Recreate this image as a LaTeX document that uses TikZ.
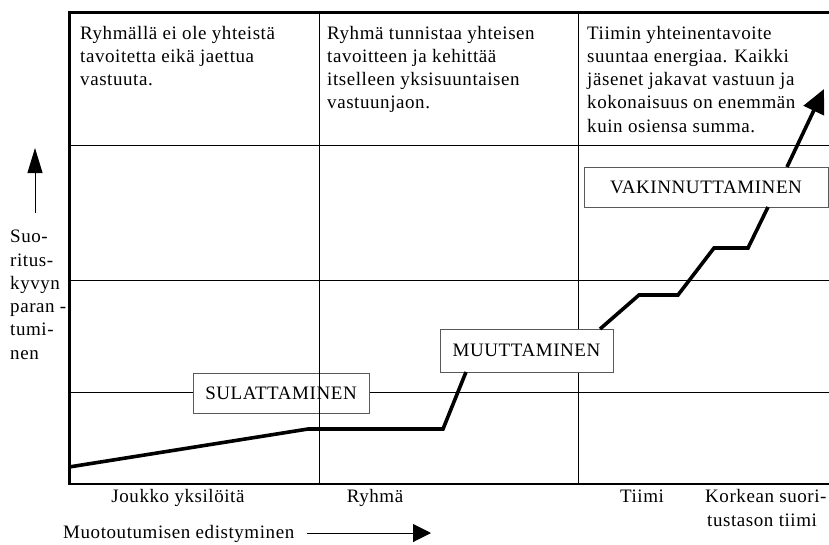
\documentclass[tikz,border=0pt]{standalone}
\usepackage{fontspec}
\setmainfont{Liberation Serif}[LetterSpace=3]
\usetikzlibrary{arrows.meta}

\begin{document}
\begin{tikzpicture}[x=1pt,y=-1pt,
  txt/.style={inner sep=0pt, align=left, font=\fontsize{19}{23.3}\selectfont},
  cell/.style={txt, anchor=north west},
  gridline/.style={line width=0.8pt},
  border/.style={line width=3pt},
  axis/.style={line width=2pt},
  phase/.style={draw=black!65, fill=white, line width=0.9pt, inner sep=0pt,
    font=\fontsize{19}{22}\selectfont},
  curve/.style={line width=3.6pt, line join=miter, line cap=butt},
  pointer/.style={line width=1pt}
]
\useasboundingbox (0,0) rectangle (829,544);

% horizontal grid lines and the vertical line behind the middle box
\draw[gridline] (69,145) -- (829,145);
\draw[gridline] (69,280) -- (829,280);
\draw[gridline] (69,392) -- (829,392);
\draw[gridline] (578,12) -- (578,484);

% phase boxes
\node[phase, minimum width=176pt, minimum height=40pt] (sul) at (281,393) {SULATTAMINEN};
\node[phase, minimum width=173pt, minimum height=43pt] (muu) at (526.5,350.5) {MUUTTAMINEN};
\node[phase, minimum width=244pt, minimum height=40pt] (vak) at (706,187) {VAKINNUTTAMINEN};

% vertical line drawn over the first box
\draw[gridline] (319,12) -- (319,484);

% frame: left border, top border, bottom axis
\draw[border] (69,10.5) -- (69,485);
\draw[border] (67.5,12) -- (829,12);
\draw[axis] (68,484) -- (829,484);

% column descriptions
\node[cell] (c1) at (80,25.7) {Ryhmällä ei ole yhteistä\\tavoitetta eikä jaettua\\vastuuta.};
\node[cell] (c2) at (327,25.7) {Ryhmä tunnistaa yhteisen\\tavoitteen ja kehittää\\itselleen yksisuuntaisen\\vastuunjaon.};
\node[cell] (c3) at (587,25.7) {Tiimin yhteinentavoite\\suuntaa energiaa. Kaikki\\jäsenet jakavat vastuun ja\\kokonaisuus on enemmän\\kuin osiensa summa.};

% performance curve
\coordinate (p0) at (69,467);
\coordinate (p1) at (308,429);
\coordinate (p2) at (443,429);
\coordinate (m1) at (466,372);
\coordinate (m2) at (600,329);
\coordinate (p3) at (639,295);
\coordinate (p4) at (678,295);
\coordinate (p5) at (714,248);
\coordinate (p6) at (748,248);
\coordinate (v1) at (768,207);
\coordinate (v2) at (787,167);
\coordinate (tip) at (824,89);
\draw[curve] (p0) -- (p1) -- (p2) -- (m1);
\draw[curve] (m2) -- (p3) -- (p4) -- (p5) -- (p6) -- (v1);
\draw[curve, -{Triangle[length=24pt,width=22pt]}] (v2) -- (tip);

% vertical axis label and arrow
\coordinate (ya0) at (35,213);
\coordinate (ya1) at (35,148);
\draw[pointer, -{Triangle[length=25pt,width=15pt]}] (ya0) -- (ya1);
\node[cell] (ylab) at (10,230) {Suo-\\ritus-\\kyvyn\\paran -\\tumi-\\nen};

% stage names along the bottom axis
\node[txt, anchor=base] (s1) at (178,502) {Joukko yksilöitä};
\node[txt, anchor=base] (s2) at (375,502) {Ryhmä};
\node[txt, anchor=base] (s3) at (642,502) {Tiimi};
\node[txt, anchor=base west] (s4) at (705,502) {Korkean suori-};
\node[txt, anchor=base west] (s4b) at (707,526) {tustason tiimi};

% horizontal axis label and arrow
\node[txt, anchor=base west] (xlab) at (63,538) {Muotoutumisen edistyminen};
\coordinate (xa0) at (307,533);
\coordinate (xa1) at (431,533);
\draw[pointer, -{Triangle[length=18pt,width=18pt]}] (xa0) -- (xa1);
\end{tikzpicture}
\end{document}
